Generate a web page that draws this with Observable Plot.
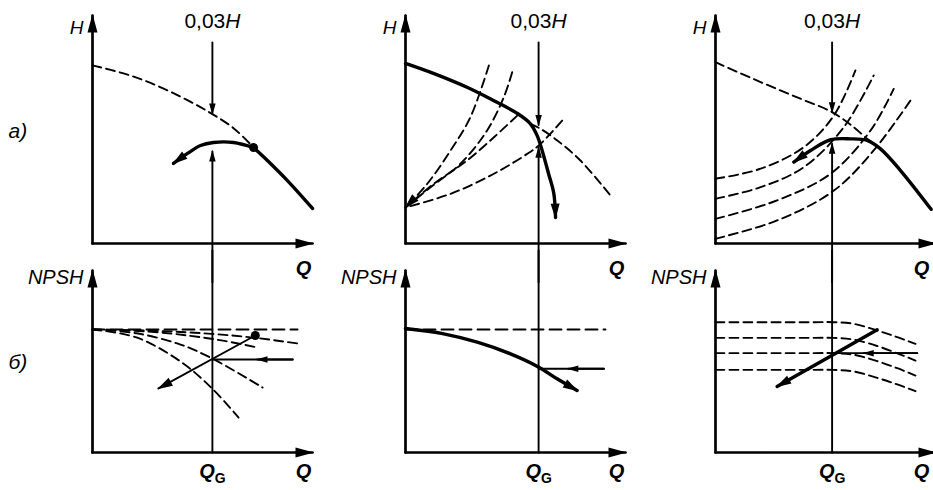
<!DOCTYPE html>
<html><head><meta charset="utf-8">
<script src="https://cdn.jsdelivr.net/npm/d3@7"></script>
<script src="https://cdn.jsdelivr.net/npm/@observablehq/plot@0.6"></script>
<style>
html,body{margin:0;padding:0;background:#fff;}
#wrap{position:relative;width:933px;height:490px;overflow:hidden;background:#fff;}
</style></head><body><div id="wrap"></div>
<script>
// ---------- axis extents (abstract units) ----------
const QMAX = 100, HMAX = 100;

// ---------- row а), panel 1 ----------
const a1_pumpDashed = [[0,78.1],[14.1,74.6],[26.4,70.4],[40,64.4],[52.3,58],[64.1,50.6],[73.2,42.1]];
const a1_pumpSolid  = [[73.2,42.1],[79.5,36.4],[88.6,27.6],[100,15.4]];
const a1_arch       = [[73.2,42.1],[64.1,44.3],[55,44.3],[49.1,43],[43.2,39.5],[36.8,35.1]];
const a1_dot        = [[73.2,42.1]];
const a1_QG = 54.5, a1_drop = [88.2, 57], a1_rise = [-17, 40.4];

// ---------- row б), panel 1 ----------
const b1_level = [[0,67.6],[93.2,67.6]];
const b1_c1 = [[0,67.6],[30,66.8],[54,65.2],[74,63],[93.2,59.9]];
const b1_c2 = [[0,67.6],[25,66.5],[44.5,64.1],[60,61.3],[75,57.7]];
const b1_c3 = [[0,67.6],[20,65.5],[40,59.3],[54.5,51.6],[77.3,35.7]];
const b1_c4 = [[0,67.6],[20,63.2],[40,50],[54.5,35],[66.4,19.2]];
const b1_dot = [[74,64.3]];
const b1_diag = [[74,64.3],[30,35.2]];
const b1_horiz = [[91,51.1],[54.5,51.1]], b1_horizHead = 75;

// ---------- row а), panel 2 ----------
const a2_pumpSolid  = [[0,79],[12.7,74.6],[28.2,68.4],[40,62.7],[50.9,57],[56.8,52.5],[59.8,47.4],[62.1,40.8],[65,30.7],[67.4,22],[68.2,11.4]];
const a2_pumpDashed = [[56.8,52.5],[61.4,50.3],[69,45.2],[79.5,36.4],[93.2,21]];
const a2_s1 = [[37.9,78.1],[29.5,55.4],[20.5,40.8],[9.9,26.2],[0,15.8]];
const a2_s2 = [[48.5,75.1],[44.7,64.2],[37.1,49.6],[25,35],[11.4,24.7],[0,15.8]];
const a2_s3 = [[50.8,56.1],[40.2,46.6],[28,36.4],[12.9,26.2],[0,15.8]];
const a2_s4 = [[71.2,53.9],[60.6,43],[55.3,39.3],[40.2,30.6],[20.5,21.8],[0,15.8]];
const a2_QG = 60.5, a2_drop = [88.2, 52], a2_rise = [-17, 42];

// ---------- row б), panel 2 ----------
const b2_level = [[0,67.6],[90.9,67.6]];
const b2_curve = [[0,68.1],[17.4,65.2],[32.6,60.6],[47.7,54.2],[60.6,46.9],[68.9,40.5],[78,34.1]];
const b2_horiz = [[90.2,46],[60.5,46]], b2_horizHead = 74;

// ---------- row а), panel 3 ----------
const a3_pumpDashed = [[0,79.5],[20.5,70.8],[38.6,63.5],[53,57.6],[62.9,51],[68.9,45.9],[73,43]];
const a3_arch = [[98,15],[84.1,32],[75,41.5],[68.9,45.2],[61.4,45.9],[52.3,45.5],[43.2,40.8],[35.6,35.7]];
const a3_r1 = [[0,28.4],[20.5,32.8],[40.2,42.3],[53.8,56.1],[63.6,75.9]];
const a3_r2 = [[0,19.6],[20.5,24.7],[40.2,33.5],[58.3,51],[71.9,73.7]];
const a3_r3 = [[0,10.8],[28,18.9],[52.3,30.6],[70.5,49.6],[81,67.8]];
const a3_r4 = [[0,2.1],[28,10.1],[53.8,23.2],[71.9,40.8],[88.6,62.7]];
const a3_QG = 53, a3_drop = [88.2, 57.6], a3_rise = [-17, 43.7];

// ---------- row б), panel 3 ----------
const b3_l1 = [[0,71.6],[45,71.6],[53.6,71.6],[62.9,70.7],[73.5,67],[82.6,63.4],[90.9,59.7]];
const b3_l2 = [[0,63],[45,63],[53.6,63],[62.9,62],[73.5,58.5],[82.6,54.5],[90.9,50.5]];
const b3_l3 = [[0,54.6],[45,54.6],[53.6,54.6],[62.9,53.7],[73.5,50.2],[82.6,46.3],[90.9,42.3]];
const b3_l4 = [[0,45.4],[45,45.4],[53.6,45.4],[62.9,44.5],[73.5,41],[82.6,37.4],[90.9,33.7]];
const b3_diag = [[73.5,67.4],[28,36.3]];
const b3_horiz = [[91.7,54.6],[53,54.6]], b3_horizHead = 67.4;

const QG_TOP_OF_LOWER = 111;

// ---------- labels ----------
const rowLabels = ["а)", "б)"];
const yLabels = ["H", "NPSH"];
const xLabel = "Q";
const dropLabel = "0,03H";
const qgLabel = "QG";

// ---------- drawing ----------
const wrap = document.getElementById("wrap");
const COLS = [92, 405, 715];
const QLABEL_DX = [-9, -9, -14];
const W = 318, ML = 90, MR = 8;
const FONT = "'Liberation Sans', Arial, Helvetica, sans-serif";

function arrowHead(len, wid) {
  return () => {
    const m = d3.create("svg:marker")
      .attr("viewBox", `${-len} ${-wid / 2} ${len + 2} ${wid}`)
      .attr("markerWidth", len + 2).attr("markerHeight", wid)
      .attr("markerUnits", "userSpaceOnUse")
      .attr("orient", "auto")
      .attr("refX", 0).attr("refY", 0)
      .attr("overflow", "visible");
    m.append("path").attr("d", `M${-len},${-wid / 2}L1.5,0L${-len},${wid / 2}Z`).attr("fill", "#000").attr("stroke", "none");
    return m.node();
  };
}
const bigHead = arrowHead(17, 10);
const curveHead = arrowHead(14, 9);
const smallHead = arrowHead(10, 6.5);

const X = d => d[0], Y = d => d[1];
const line = (pts, o = {}) => Plot.line(pts, {x: X, y: Y, curve: "catmull-rom", stroke: "#000", strokeLinejoin: "round", ...o});
const SOLID = {strokeWidth: 3.4};
const THIN = {strokeWidth: 1.9, curve: "linear"};
const DASH = {strokeWidth: 1.9, strokeDasharray: "9,5"};
const LEVEL = {strokeWidth: 1.9, strokeDasharray: "12,6", curve: "linear"};
const TXT = {fill: "#000"};

function axes() {
  return [
    line([[0, 0], [0, HMAX]], {strokeWidth: 2.7, curve: "linear", markerEnd: bigHead}),
    line([[0, 0], [QMAX, 0]], {strokeWidth: 2.7, curve: "linear", markerEnd: bigHead})
  ];
}
function topTexts(col, QG) {
  const m = [
    Plot.text([yLabels[0]], {text: d => d, frameAnchor: "top-left", dx: -9, dy: 18, textAnchor: "end", lineAnchor: "bottom", fontSize: 19, fontStyle: "italic", ...TXT}),
    Plot.text([dropLabel], {text: d => d, x: () => QG, frameAnchor: "top", dy: 12, textAnchor: "middle", lineAnchor: "bottom", fontSize: 21, ...TXT}),
    Plot.text([xLabel], {text: d => d, frameAnchor: "bottom-right", dx: QLABEL_DX[col], dy: 31, textAnchor: "middle", lineAnchor: "bottom", fontSize: 20, fontStyle: "italic", fontWeight: "bold", ...TXT})
  ];
  if (col === 0) m.push(Plot.text([rowLabels[0]], {text: d => d, frameAnchor: "top-left", dx: -84, dy: 122, textAnchor: "start", lineAnchor: "bottom", fontSize: 21, fontStyle: "italic", ...TXT}));
  return m;
}
function bottomTexts(col, QG) {
  const m = [
    Plot.text([yLabels[1]], {text: d => d, frameAnchor: "top-left", dx: -9, dy: 13, textAnchor: "end", lineAnchor: "bottom", fontSize: 20, fontStyle: "italic", ...TXT}),
    Plot.text([xLabel], {text: d => d, frameAnchor: "bottom-right", dx: QLABEL_DX[col], dy: 25, textAnchor: "middle", lineAnchor: "bottom", fontSize: 20, fontStyle: "italic", fontWeight: "bold", ...TXT}),
    Plot.text([qgLabel], {text: d => d, x: () => QG, frameAnchor: "bottom", dy: 25, textAnchor: "middle", lineAnchor: "bottom", fontSize: 20, fontWeight: "bold", ...TXT})
  ];
  if (col === 0) m.push(Plot.text([rowLabels[1]], {text: d => d, frameAnchor: "top-left", dx: -84, dy: 98, textAnchor: "start", lineAnchor: "bottom", fontSize: 21, fontStyle: "italic", ...TXT}));
  return m;
}
function qgTop(QG, drop, rise) {
  return [
    line([[QG, drop[0]], [QG, drop[1]]], {...THIN, markerEnd: smallHead}),
    line([[QG, rise[0]], [QG, rise[1]]], {...THIN, markerEnd: smallHead})
  ];
}
function qgBottom(QG) {
  return [line([[QG, QG_TOP_OF_LOWER], [QG, 0]], THIN)];
}
function midArrow(pts, headAt) {
  return [
    line(pts, THIN),
    line([pts[0], [headAt, pts[0][1]]], {...THIN, markerEnd: smallHead})
  ];
}

function richText(svg) {
  d3.select(svg).selectAll("text").each(function () {
    const s = d3.select(this), t = this.textContent;
    if (t === dropLabel) {
      s.text("");
      s.append("tspan").text("0,03");
      s.append("tspan").attr("font-style", "italic").text("H");
    } else if (t === qgLabel) {
      s.text("");
      s.append("tspan").attr("font-style", "italic").text("Q");
      s.append("tspan").attr("font-size", 14).attr("font-style", "normal").attr("dy", 5).text("G");
    }
  });
}

function panel(col, row, marks) {
  const isTop = row === 0;
  const svg = Plot.plot({
    width: W, height: isTop ? 280 : 240,
    marginLeft: ML, marginRight: MR,
    marginTop: isTop ? 15 : 20, marginBottom: isTop ? 37 : 38,
    x: {domain: [0, QMAX], axis: null},
    y: {domain: [0, HMAX], axis: null},
    style: {background: "transparent", overflow: "visible", fontFamily: FONT, color: "#000",
            position: "absolute", left: (COLS[col] - ML) + "px", top: (isTop ? 0 : 250) + "px", maxWidth: "none"},
    marks
  });
  richText(svg);
  wrap.appendChild(svg);
}

// panel 1
panel(0, 0, [
  ...axes(),
  line(a1_pumpDashed, DASH),
  line(a1_pumpSolid, SOLID),
  line(a1_arch, {...SOLID, markerEnd: curveHead}),
  Plot.dot(a1_dot, {x: X, y: Y, r: 4.5, fill: "#000"}),
  ...qgTop(a1_QG, a1_drop, a1_rise),
  ...topTexts(0, a1_QG)
]);
panel(0, 1, [
  ...axes(),
  line(b1_level, LEVEL),
  line(b1_c1, DASH), line(b1_c2, DASH), line(b1_c3, DASH), line(b1_c4, DASH),
  ...qgBottom(a1_QG),
  line(b1_diag, {...THIN, markerEnd: curveHead}),
  ...midArrow(b1_horiz, b1_horizHead),
  Plot.dot(b1_dot, {x: X, y: Y, r: 4.5, fill: "#000"}),
  ...bottomTexts(0, a1_QG)
]);

// panel 2
panel(1, 0, [
  ...axes(),
  line(a2_pumpDashed, DASH),
  line(a2_s1, {...DASH, markerEnd: curveHead}), line(a2_s2, DASH), line(a2_s3, DASH), line(a2_s4, DASH),
  line(a2_pumpSolid, {...SOLID, markerEnd: curveHead}),
  ...qgTop(a2_QG, a2_drop, a2_rise),
  ...topTexts(1, a2_QG)
]);
panel(1, 1, [
  ...axes(),
  line(b2_level, LEVEL),
  ...qgBottom(a2_QG),
  line(b2_curve, {...SOLID, markerEnd: curveHead}),
  ...midArrow(b2_horiz, b2_horizHead),
  ...bottomTexts(1, a2_QG)
]);

// panel 3
panel(2, 0, [
  ...axes(),
  line(a3_pumpDashed, DASH),
  line(a3_r1, DASH), line(a3_r2, DASH), line(a3_r3, DASH), line(a3_r4, DASH),
  line(a3_arch, {...SOLID, markerEnd: curveHead}),
  ...qgTop(a3_QG, a3_drop, a3_rise),
  ...topTexts(2, a3_QG)
]);
panel(2, 1, [
  ...axes(),
  line(b3_l1, DASH), line(b3_l2, DASH), line(b3_l3, DASH), line(b3_l4, DASH),
  ...qgBottom(a3_QG),
  line(b3_diag, {...SOLID, markerEnd: curveHead}),
  ...midArrow(b3_horiz, b3_horizHead),
  ...bottomTexts(2, a3_QG)
]);
</script>
</body></html>
